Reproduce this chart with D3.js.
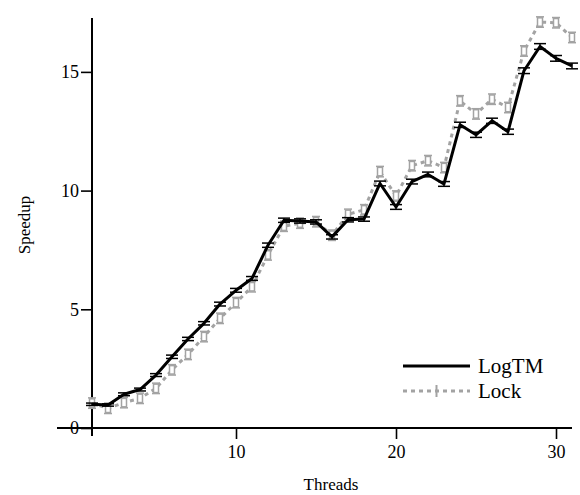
<!DOCTYPE html>
<html><head><meta charset="utf-8">
<script src="https://cdn.jsdelivr.net/npm/d3@7"></script>
<style>body{margin:0;background:#fff}svg{display:block}svg text{font-family:"Liberation Serif",serif !important}</style>
</head><body><svg id="c" width="580" height="495"></svg>
<script>
const threads = d3.range(1, 32);
const logtm = [1.0,0.97,1.42,1.62,2.23,3.0,3.75,4.41,5.22,5.8,6.3,7.7,8.75,8.72,8.68,8.05,8.77,8.8,10.3,9.31,10.38,10.68,10.28,12.77,12.35,12.94,12.48,15.05,16.07,15.57,15.25];
const lock = [1.05,0.83,1.07,1.25,1.67,2.45,3.1,3.85,4.62,5.28,5.95,7.29,8.5,8.63,8.69,8.12,9.0,9.19,10.8,9.77,11.05,11.26,10.97,13.78,13.23,13.85,13.5,15.88,17.1,17.07,16.45];
const logtmErr = [0.05,0.05,0.06,0.06,0.06,0.07,0.07,0.07,0.08,0.08,0.08,0.09,0.09,0.09,0.09,0.09,0.09,0.09,0.1,0.1,0.1,0.1,0.1,0.11,0.11,0.11,0.11,0.12,0.12,0.12,0.12];
const lockErr = [0.22,0.22,0.22,0.22,0.22,0.22,0.22,0.22,0.22,0.22,0.22,0.22,0.22,0.22,0.22,0.22,0.22,0.22,0.22,0.22,0.22,0.22,0.22,0.22,0.22,0.22,0.22,0.22,0.22,0.22,0.22];
const xTicks = [10, 20, 30];
const yTicks = [0, 5, 10, 15];
const seriesNames = ["LogTM", "Lock"];
const FONT = "Liberation Serif, serif";

const svg = d3.select("#c").style("font-family", FONT);
const x = d3.scaleLinear().domain([1, 31]).range([92, 572]);
const y = d3.scaleLinear().domain([0, 17.27]).range([428, 18]);

// axes
const xAxisMinor = d3.axisBottom(x).tickValues(d3.range(1, 32)).tickSize(6).tickFormat("");
const xAxisMajor = d3.axisBottom(x).tickValues(xTicks).tickSize(11).tickFormat(d3.format("d"));
const gx = svg.append("g").attr("transform", "translate(0,428)");
gx.call(xAxisMinor);
gx.call(xAxisMajor);
gx.attr("font-family", null);
gx.selectAll("path").attr("d", `M${x(1) - 35},0H${x(31)}`).attr("stroke", "#000").attr("stroke-width", 2);
gx.selectAll("line").attr("stroke", "#000").attr("stroke-width", 1.6);
gx.selectAll("text").style("font-family", FONT).attr("font-size", 18).attr("fill", "#000").attr("y", 17).attr("dy", "0.71em");

const yAxisMinor = d3.axisLeft(y).tickValues(d3.range(0, 18)).tickSize(6).tickFormat("");
const yAxisMajor = d3.axisLeft(y).tickValues(yTicks).tickSize(11).tickFormat(d3.format("d"));
const gy = svg.append("g").attr("transform", "translate(92,0)");
gy.call(yAxisMinor);
gy.call(yAxisMajor);
gy.attr("font-family", null);
gy.selectAll("path").attr("d", `M0,${y(0) + 8}V${y(17.27)}`).attr("stroke", "#000").attr("stroke-width", 2);
gy.selectAll("line").attr("stroke", "#000").attr("stroke-width", 1.6);
gy.selectAll("text").style("font-family", FONT).attr("font-size", 18).attr("fill", "#000").attr("x", -13);

svg.append("text").style("font-family", FONT).attr("x", 331).attr("y", 490).attr("text-anchor", "middle").attr("font-size", 17).text("Threads");
svg.append("text").style("font-family", FONT).attr("transform", "translate(30,225) rotate(-90)").attr("text-anchor", "middle").attr("font-size", 17).text("Speedup");

const line = d3.line().x((d, i) => x(threads[i])).y(d => y(d));

// Lock series
const gray = "#a3a3a3";
svg.append("path").datum(lock).attr("d", line).attr("fill", "none")
  .attr("stroke", gray).attr("stroke-width", 3).attr("stroke-dasharray", "4,4");
const lg = svg.append("g");
lock.forEach((v, i) => {
  const cx = x(threads[i]), e = lockErr[i];
  lg.append("line").attr("x1", cx - 4).attr("x2", cx + 4).attr("y1", y(v + e)).attr("y2", y(v + e)).attr("stroke", gray).attr("stroke-width", 1.5);
  lg.append("line").attr("x1", cx - 4).attr("x2", cx + 4).attr("y1", y(v - e)).attr("y2", y(v - e)).attr("stroke", gray).attr("stroke-width", 1.5);
  lg.append("rect").attr("x", cx - 2.5).attr("y", y(v + e) + 1).attr("width", 5).attr("height", y(v - e) - y(v + e) - 2)
    .attr("fill", "#fff").attr("stroke", gray).attr("stroke-width", 1.5);
});

// LogTM series
svg.append("path").datum(logtm).attr("d", line).attr("fill", "none")
  .attr("stroke", "#000").attr("stroke-width", 3).attr("stroke-linejoin", "round");
const tg = svg.append("g");
logtm.forEach((v, i) => {
  const cx = x(threads[i]), e = logtmErr[i];
  [v + e, v - e].forEach(w => tg.append("line").attr("x1", cx - 6).attr("x2", cx + 6).attr("y1", y(w)).attr("y2", y(w)).attr("stroke", "#000").attr("stroke-width", 1.5));
  tg.append("line").attr("x1", cx).attr("x2", cx).attr("y1", y(v + e)).attr("y2", y(v - e)).attr("stroke", "#000").attr("stroke-width", 1.5);
});

// legend
const leg = svg.append("g");
leg.append("line").attr("x1", 403).attr("x2", 470).attr("y1", 366).attr("y2", 366).attr("stroke", "#000").attr("stroke-width", 3);
leg.append("text").style("font-family", FONT).attr("x", 478).attr("y", 366).attr("dy", "0.35em").attr("font-size", 21).text(seriesNames[0]);
leg.append("line").attr("x1", 403).attr("x2", 470).attr("y1", 391).attr("y2", 391).attr("stroke", gray).attr("stroke-width", 3).attr("stroke-dasharray", "4,4");
leg.append("line").attr("x1", 436.5).attr("x2", 436.5).attr("y1", 385).attr("y2", 397).attr("stroke", gray).attr("stroke-width", 2);
leg.append("text").style("font-family", FONT).attr("x", 478).attr("y", 391).attr("dy", "0.35em").attr("font-size", 21).text(seriesNames[1]);
</script></body></html>
